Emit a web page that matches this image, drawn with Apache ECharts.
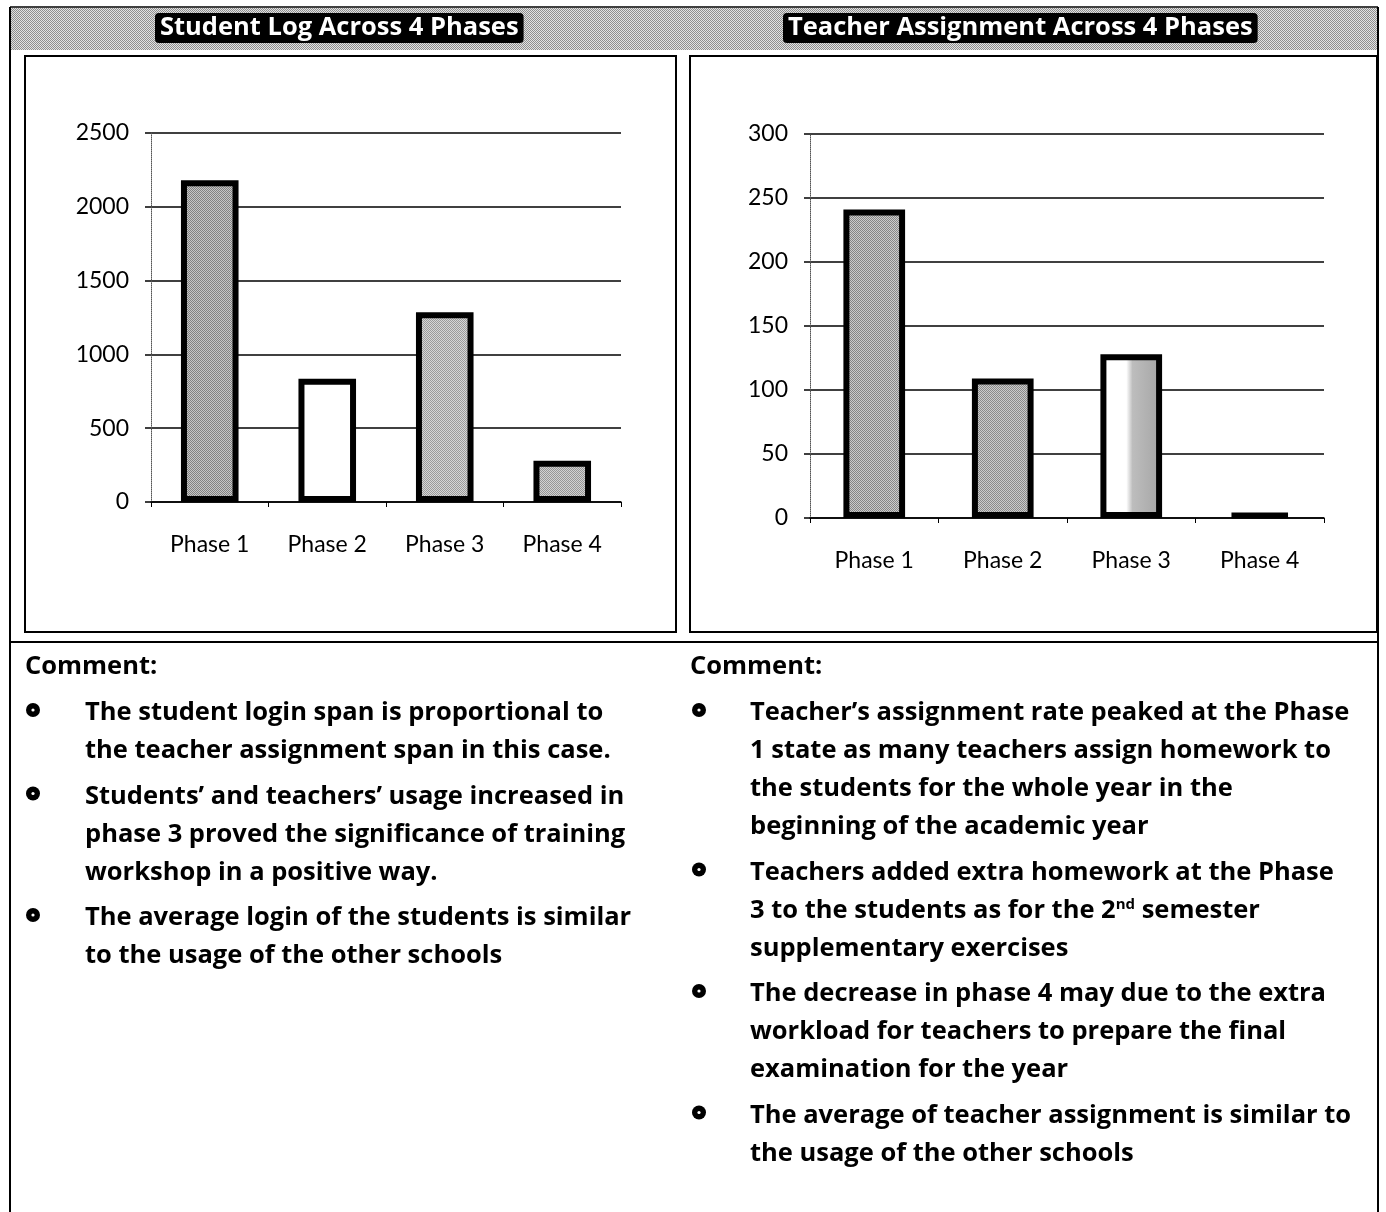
<!DOCTYPE html>
<html>
<head>
<meta charset="utf-8">
<title>Student Log and Teacher Assignment Across 4 Phases</title>
<script src="https://cdn.jsdelivr.net/npm/echarts@6/dist/echarts.min.js"></script>
<style>
  html, body { margin: 0; padding: 0; background: #fff; }
  #main { width: 1386px; height: 1212px; }
</style>
</head>
<body>
<div id="main"></div>
<script>
// ---- data ----
const phases = ['Phase 1', 'Phase 2', 'Phase 3', 'Phase 4'];
const studentLogins = [2180, 835, 1285, 280];
const teacherAssignments = [241, 109, 128, 4];
const studentTicks = { min: 0, max: 2500, interval: 500 };
const teacherTicks = { min: 0, max: 300, interval: 50 };
const chartTitles = ['Student Log Across 4 Phases', 'Teacher Assignment Across 4 Phases'];
const commentHeading = 'Comment:';
const studentComments = [
  ['The student login span is proportional to', 'the teacher assignment span in this case.'],
  ['Students\u2019 and teachers\u2019 usage increased in', 'phase 3 proved the significance of training', 'workshop in a positive way.'],
  ['The average login of the students is similar', 'to the usage of the other schools']
];
const teacherComments = [
  ['Teacher\u2019s assignment rate peaked at the Phase', '1 state as many teachers assign homework to', 'the students for the whole year in the', 'beginning of the academic year'],
  ['Teachers added extra homework at the Phase', '3 to the students as for the 2{sup|nd} semester', 'supplementary exercises'],
  ['The decrease in phase 4 may due to the extra', 'workload for teachers to prepare the final', 'examination for the year'],
  ['The average of teacher assignment is similar to', 'the usage of the other schools']
];

// ---- styling helpers ----
const AXIS_FONT = 'Lato, "Open Sans", sans-serif';
const TEXT_FONT = '"Open Sans", "Noto Sans", sans-serif';
const BODY_FONT = 'bold 25.5px ' + TEXT_FONT;

// small checkered tile that gives the screened-gray print look
function dither(dark, light) {
  const c = document.createElement('canvas');
  c.width = 2; c.height = 2;
  const g = c.getContext('2d');
  g.fillStyle = light; g.fillRect(0, 0, 2, 2);
  g.fillStyle = dark; g.fillRect(0, 0, 1, 1); g.fillRect(1, 1, 1, 1);
  return { image: c, repeat: 'repeat' };
}

const halfShade = {
  type: 'linear', x: 0, y: 0, x2: 1, y2: 0,
  colorStops: [
    { offset: 0, color: '#ffffff' }, { offset: 0.42, color: '#ffffff' },
    { offset: 0.52, color: '#bdbdbd' }, { offset: 1, color: '#a4a4a4' }
  ]
};
const studentFills = [dither('#828282', '#c6c6c6'), '#ffffff', dither('#9a9a9a', '#d6d6d6'), dither('#969696', '#d2d2d2')];
const teacherFills = [dither('#868686', '#cccccc'), dither('#8a8a8a', '#cbcbcb'), halfShade, '#000000'];

function barData(values, fills) {
  return values.map((v, i) => ({ value: v, itemStyle: { color: fills[i] } }));
}

function valueAxis(gridIndex, ticks) {
  return {
    type: 'value', gridIndex,
    min: ticks.min, max: ticks.max, interval: ticks.interval,
    axisLine: { show: true, lineStyle: { color: '#555', width: 1, type: 'dotted' } },
    axisTick: { show: true, length: 6, lineStyle: { color: '#000', width: 1.5 } },
    axisLabel: { margin: 22, color: '#000', fontFamily: AXIS_FONT, fontSize: 23, formatter: v => String(v) },
    splitLine: { show: true, lineStyle: { color: '#000', width: 1.5 } }
  };
}

function categoryAxis(gridIndex) {
  return {
    type: 'category', gridIndex, data: phases,
    axisLine: { show: true, lineStyle: { color: '#000', width: 1.5 } },
    axisTick: { show: true, length: 5, lineStyle: { color: '#000', width: 1 } },
    axisLabel: { margin: 31, color: '#000', fontFamily: AXIS_FONT, fontSize: 23 }
  };
}

function commentBlock(paras, x0, textX, bulletX) {
  const els = [{
    type: 'text', x: x0, y: 667,
    style: { text: commentHeading, font: BODY_FONT, fill: '#000', verticalAlign: 'middle' }
  }];
  let y = 713;
  paras.forEach(lines => {
    els.push({ type: 'circle', shape: { cx: bulletX, cy: y - 3, r: 7 }, style: { fill: '#000' } });
    els.push({ type: 'circle', shape: { cx: bulletX, cy: y - 3, r: 1.6 }, style: { fill: '#fff' } });
    lines.forEach(line => {
      els.push({
        type: 'text', x: textX, y: y,
        style: {
          text: line, font: BODY_FONT, fill: '#000', verticalAlign: 'middle',
          rich: { sup: { font: 'bold 15px ' + TEXT_FONT, fill: '#000', verticalAlign: 'top' } }
        }
      });
      y += 38;
    });
    y += 7.5;
  });
  return els;
}

const headerTile = dither('#8e8e8e', '#e2e2e2');

const frame = [
  // header band
  { type: 'rect', shape: { x: 10, y: 8, width: 1368, height: 42 }, style: { fill: headerTile } },
  // outer borders and dividers
  { type: 'line', shape: { x1: 10, y1: 7, x2: 1378, y2: 7 }, style: { stroke: '#000', lineWidth: 1.5 } },
  { type: 'line', shape: { x1: 10, y1: 7, x2: 10, y2: 1212 }, style: { stroke: '#000', lineWidth: 2 } },
  { type: 'line', shape: { x1: 1378, y1: 7, x2: 1378, y2: 1212 }, style: { stroke: '#000', lineWidth: 2 } },
  { type: 'line', shape: { x1: 10, y1: 642, x2: 1378, y2: 642 }, style: { stroke: '#000', lineWidth: 2 } },
  // chart panels
  { type: 'rect', shape: { x: 25, y: 56, width: 651, height: 576 }, style: { fill: 'none', stroke: '#000', lineWidth: 2 } },
  { type: 'rect', shape: { x: 690, y: 56, width: 687, height: 576 }, style: { fill: 'none', stroke: '#000', lineWidth: 2 } }
];

const chart = echarts.init(document.getElementById('main'), null, { renderer: 'canvas' });

const titleStyle = { color: '#fff', fontFamily: TEXT_FONT, fontWeight: 'bold', fontSize: 25.5, lineHeight: 28 };

chart.setOption({
  backgroundColor: '#ffffff',
  animation: false,
  title: [
    { text: chartTitles[0], left: 155, top: 13, padding: [1, 5], borderRadius: 4, backgroundColor: '#000', textStyle: titleStyle },
    { text: chartTitles[1], left: 783, top: 13, padding: [1, 5], borderRadius: 4, backgroundColor: '#000', textStyle: titleStyle }
  ],
  grid: [
    { left: 151, top: 133, width: 470, height: 369 },
    { left: 810, top: 134, width: 514, height: 384 }
  ],
  xAxis: [categoryAxis(0), categoryAxis(1)],
  yAxis: [valueAxis(0, studentTicks), valueAxis(1, teacherTicks)],
  series: [
    {
      name: 'Student Log', type: 'bar', xAxisIndex: 0, yAxisIndex: 0,
      barWidth: '49%',
      itemStyle: { borderColor: '#000', borderWidth: 6 },
      data: barData(studentLogins, studentFills)
    },
    {
      name: 'Teacher Assignment', type: 'bar', xAxisIndex: 1, yAxisIndex: 1,
      barWidth: '48%',
      itemStyle: { borderColor: '#000', borderWidth: 6 },
      data: barData(teacherAssignments, teacherFills)
    }
  ],
  graphic: frame
    .concat(commentBlock(studentComments, 25, 85, 33))
    .concat(commentBlock(teacherComments, 690, 750, 699))
});
</script>
</body>
</html>
